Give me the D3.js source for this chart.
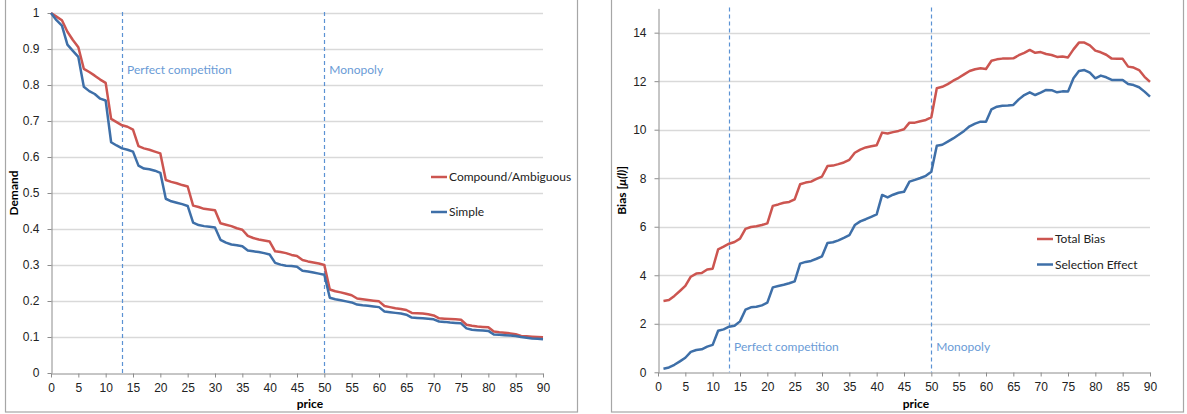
<!DOCTYPE html>
<html>
<head>
<meta charset="utf-8">
<script src="https://cdn.jsdelivr.net/npm/d3@7"></script>
<style>
  body { margin: 0; background: #fff; }
  svg { display: block; font-family: Lato, "Open Sans", sans-serif; }
  .tick text { fill: #222; font-size: 12px; }
  .domain, .tick line { stroke: #8c8c8c; }
</style>
</head>
<body>
<svg id="mainSvg" width="1187" height="414"></svg>
<script>
// ---- left panel: demand ----
var demandPrice = d3.range(0, 91);
var compound = [1.000,
  0.990, 0.980, 0.948, 0.925, 0.905,  0.845, 0.836, 0.826, 0.815, 0.806,
  0.706, 0.697, 0.688, 0.684, 0.676,  0.630, 0.624, 0.620, 0.615, 0.610,
  0.536, 0.531, 0.527, 0.522, 0.518,  0.465, 0.461, 0.456, 0.454, 0.452,
  0.416, 0.412, 0.408, 0.402, 0.398,  0.381, 0.375, 0.371, 0.368, 0.365,
  0.338, 0.336, 0.333, 0.328, 0.325,  0.314, 0.310, 0.307, 0.304, 0.300,
  0.232, 0.227, 0.224, 0.220, 0.216,  0.207, 0.205, 0.203, 0.201, 0.199,
  0.186, 0.183, 0.180, 0.178, 0.175,  0.167, 0.166, 0.165, 0.163, 0.160,
  0.152, 0.151, 0.150, 0.149, 0.148,  0.134, 0.131, 0.129, 0.128, 0.127,
  0.115, 0.113, 0.112, 0.110, 0.108,  0.103, 0.102, 0.101, 0.100, 0.099];
var simple = [1.000,
  0.980, 0.965, 0.912, 0.895, 0.878,  0.795, 0.783, 0.775, 0.762, 0.757,
  0.641, 0.632, 0.624, 0.620, 0.615,  0.576, 0.568, 0.566, 0.562, 0.556,
  0.484, 0.477, 0.473, 0.469, 0.464,  0.418, 0.411, 0.408, 0.406, 0.404,
  0.370, 0.362, 0.357, 0.355, 0.352,  0.340, 0.338, 0.336, 0.333, 0.329,
  0.306, 0.301, 0.298, 0.297, 0.295,  0.284, 0.282, 0.279, 0.276, 0.273,
  0.209, 0.205, 0.202, 0.199, 0.196,  0.190, 0.188, 0.187, 0.185, 0.183,
  0.171, 0.169, 0.167, 0.165, 0.162,  0.154, 0.153, 0.152, 0.151, 0.149,
  0.143, 0.142, 0.140, 0.139, 0.138,  0.124, 0.120, 0.119, 0.118, 0.117,
  0.107, 0.106, 0.105, 0.104, 0.103,  0.100, 0.098, 0.096, 0.095, 0.094];
var demandYTicks = [0, 0.1, 0.2, 0.3, 0.4, 0.5, 0.6, 0.7, 0.8, 0.9, 1];

// ---- right panel: bias ----
var biasPrice = d3.range(1, 91);
var totalBias = [
  2.94, 2.98, 3.15, 3.35, 3.56,  3.94, 4.07, 4.09, 4.24, 4.27,
  5.07, 5.18, 5.30, 5.37, 5.51,  5.91, 5.99, 6.02, 6.07, 6.14,
  6.86, 6.92, 6.99, 7.02, 7.13,  7.75, 7.82, 7.86, 7.97, 8.07,
  8.50, 8.52, 8.58, 8.65, 8.76,  9.05, 9.18, 9.27, 9.32, 9.36,
  9.88, 9.84, 9.90, 9.95, 10.02, 10.29, 10.29, 10.35, 10.40, 10.51,
  11.71, 11.77, 11.88, 12.02, 12.14, 12.28, 12.42, 12.49, 12.53, 12.50,
  12.84, 12.90, 12.93, 12.93, 12.94, 13.07, 13.17, 13.29, 13.17, 13.20,
  13.12, 13.08, 13.00, 13.02, 12.98, 13.31, 13.59, 13.59, 13.48, 13.26,
  13.19, 13.09, 12.93, 12.92, 12.92, 12.60, 12.56, 12.46, 12.18, 11.97];
var selectionEffect = [
  0.15, 0.20, 0.31, 0.45, 0.60,  0.84, 0.92, 0.95, 1.06, 1.13,
  1.71, 1.77, 1.88, 1.92, 2.10,  2.58, 2.68, 2.70, 2.76, 2.87,
  3.50, 3.56, 3.61, 3.67, 3.75,  4.48, 4.55, 4.59, 4.68, 4.78,
  5.33, 5.36, 5.44, 5.54, 5.65,  6.07, 6.22, 6.31, 6.41, 6.51,
  7.31, 7.21, 7.32, 7.40, 7.44,  7.86, 7.93, 8.01, 8.10, 8.27,
  9.34, 9.38, 9.51, 9.64, 9.79,  9.95, 10.14, 10.25, 10.33, 10.33,
  10.84, 10.95, 10.99, 11.00, 11.02, 11.25, 11.43, 11.54, 11.43, 11.53,
  11.64, 11.63, 11.54, 11.58, 11.57, 12.12, 12.42, 12.46, 12.35, 12.12,
  12.23, 12.16, 12.05, 12.05, 12.05, 11.88, 11.84, 11.75, 11.57, 11.36];
var biasYTicks = [0, 2, 4, 6, 8, 10, 12, 14];

var priceTicks = d3.range(0, 95, 5);
var markerPrices = [13, 50];
var markerLabels = ["Perfect competition", "Monopoly"];

var RED = "#cc5550", BLUE = "#3e6fa8", MARK = "#5b92d3";

function drawPanel(cfg) {
  var svg = d3.select("#mainSvg");
  var g = svg.append("g");

  // chart frame
  g.append("rect")
    .attr("x", cfg.frame[0] + 0.5).attr("y", -2)
    .attr("width", cfg.frame[1] - cfg.frame[0]).attr("height", 414)
    .attr("fill", "none").attr("stroke", "#a6a6a6").attr("stroke-width", 1.2);

  var x = d3.scaleLinear().domain([0, 90]).range([cfg.left, cfg.right]);
  var y = d3.scaleLinear().domain(cfg.yDomain).range([cfg.bottom, cfg.top]);

  // gridlines
  g.selectAll(".grid")
    .data(cfg.yTicks.filter(function(d) { return d > 0; }))
    .enter().append("line")
    .attr("x1", cfg.left).attr("x2", cfg.right)
    .attr("y1", function(d) { return Math.round(y(d)) + 0.5; })
    .attr("y2", function(d) { return Math.round(y(d)) + 0.5; })
    .attr("stroke", "#d9d9d9").attr("stroke-width", 1.5);

  // axes
  g.append("g")
    .attr("transform", "translate(0," + (Math.round(cfg.bottom) + 0.5) + ")")
    .call(d3.axisBottom(x).tickValues(priceTicks).tickSize(4).tickPadding(6).tickSizeOuter(0));
  g.append("g")
    .attr("transform", "translate(" + (Math.round(cfg.left) + 0.5) + ",0)")
    .call(d3.axisLeft(y).tickValues(cfg.yTicks).tickFormat(d3.format("~g"))
      .tickSize(4).tickPadding(8).tickSizeOuter(0));

  // dashed markers
  markerPrices.forEach(function(p, i) {
    g.append("line")
      .attr("x1", Math.round(x(p)) + 0.5).attr("x2", Math.round(x(p)) + 0.5)
      .attr("y1", cfg.top - 1).attr("y2", cfg.bottom)
      .attr("stroke", MARK).attr("stroke-width", 1.2)
      .attr("stroke-dasharray", "4,3");
    g.append("text")
      .attr("x", x(p) + 5).attr("y", cfg.markerY)
      .attr("fill", "#6a9bd6").style("font-size", "12px")
      .text(markerLabels[i]);
  });

  // series lines
  var line = d3.line()
    .x(function(d) { return x(d[0]); })
    .y(function(d) { return y(d[1]); });
  cfg.series.forEach(function(s) {
    g.append("path")
      .datum(d3.zip(cfg.xs, s.values))
      .attr("d", line)
      .attr("fill", "none").attr("stroke", s.color)
      .attr("stroke-width", 2.5).attr("stroke-linejoin", "round");
  });

  // legend
  cfg.series.forEach(function(s, i) {
    var ly = cfg.legend[1] + i * cfg.legendGap;
    g.append("line")
      .attr("x1", cfg.legend[0]).attr("x2", cfg.legend[0] + 16)
      .attr("y1", ly).attr("y2", ly)
      .attr("stroke", s.color).attr("stroke-width", 2.5);
    g.append("text")
      .attr("x", cfg.legend[0] + 18).attr("y", ly + 4)
      .attr("fill", "#222").style("font-size", "12px")
      .text(s.name);
  });

  // axis titles
  g.append("text")
    .attr("x", cfg.xTitleX).attr("y", 408)
    .attr("text-anchor", "middle").style("font-size", "12px").style("font-weight", "bold")
    .text("price");
  var yt = g.append("text")
    .attr("transform", "translate(" + cfg.yTitleX + "," + ((cfg.top + cfg.bottom) / 2) + ") rotate(-90)")
    .attr("text-anchor", "middle").style("font-size", "12px").style("font-weight", "bold");
  yt.append("tspan").text(cfg.yTitle[0]);
  if (cfg.yTitle[1]) {
    yt.append("tspan").style("font-style", "italic").text(cfg.yTitle[1]);
    yt.append("tspan").text(cfg.yTitle[2]);
  }
}

drawPanel({
  frame: [5, 577], left: 51, right: 543, top: 13, bottom: 373,
  yDomain: [0, 1], yTicks: demandYTicks, xs: demandPrice,
  series: [{ name: "Compound/Ambiguous", values: compound, color: RED },
           { name: "Simple", values: simple, color: BLUE }],
  legend: [431, 177], legendGap: 35, markerY: 74,
  xTitleX: 310, yTitleX: 18, yTitle: ["Demand"]
});

drawPanel({
  frame: [611, 1183], left: 658, right: 1150, top: 8.4, bottom: 372.3,
  yDomain: [0, 15], yTicks: biasYTicks, xs: biasPrice,
  series: [{ name: "Total Bias", values: totalBias, color: RED },
           { name: "Selection Effect", values: selectionEffect, color: BLUE }],
  legend: [1037, 239], legendGap: 25.5, markerY: 351,
  xTitleX: 916, yTitleX: 626, yTitle: ["Bias [", "\u03bc(l)", "]"]
});
</script>
</body>
</html>
